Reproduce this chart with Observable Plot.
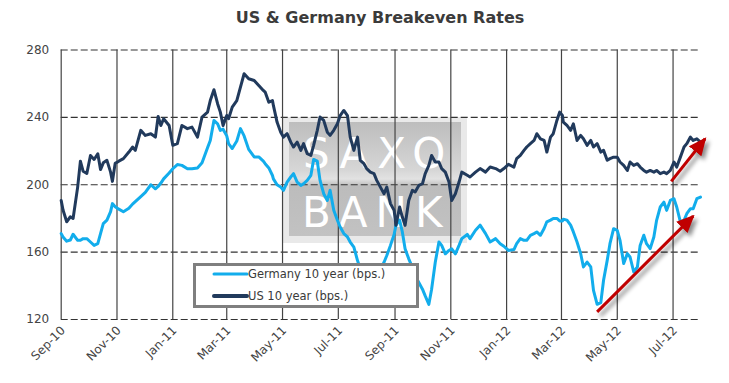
<!DOCTYPE html>
<html><head><meta charset="utf-8">
<script src="https://cdn.jsdelivr.net/npm/d3@7"></script>
<script src="https://cdn.jsdelivr.net/npm/@observablehq/plot@0.6"></script>
<style>
body{margin:0;background:#fff;}
#wrap{position:relative;width:729px;height:383px;overflow:hidden;font-family:"DejaVu Sans",Verdana,sans-serif;}
#title{position:absolute;left:0;top:0;width:729px;height:34px;box-sizing:border-box;padding-left:31px;padding-top:8px;text-align:center;font-weight:bold;font-size:16px;color:#3b3b3b;}
#wm{position:absolute;left:283px;top:117px;z-index:0;}
#chart{position:absolute;left:0;top:34px;z-index:1;}
#legend{position:absolute;left:193px;top:263px;width:226px;height:45px;box-sizing:border-box;border:3px solid #7f7f7f;background:#fff;z-index:2;}
</style></head><body>
<div id="wrap">
  <div id="title"></div>
  <svg id="wm" width="184" height="126"></svg>
  <div id="chart"></div>
  <div id="legend"></div>
</div>
<script>
const chartTitle = "US & Germany Breakeven Rates";
const seriesNames = ["Germany 10 year (bps.)", "US 10 year (bps.)"];
const seriesColors = ["#12adec", "#213a5c"];
const watermarkWords = ["SAXO", "BANK"];

const dates = [
"2010-09-01","2010-09-03","2010-09-07","2010-09-11","2010-09-14","2010-09-19","2010-09-22","2010-09-25","2010-09-29",
"2010-10-03","2010-10-07","2010-10-11","2010-10-14","2010-10-17","2010-10-21","2010-10-25","2010-10-27","2010-10-30",
"2010-11-03","2010-11-08","2010-11-14","2010-11-18","2010-11-21","2010-11-27",
"2010-12-02","2010-12-08","2010-12-13","2010-12-16","2010-12-19","2010-12-22","2010-12-28",
"2011-01-01","2011-01-06","2011-01-11","2011-01-17","2011-01-22","2011-01-28",
"2011-02-02","2011-02-08","2011-02-11","2011-02-15","2011-02-19","2011-02-22","2011-02-25",
"2011-03-01","2011-03-03","2011-03-07","2011-03-12","2011-03-16","2011-03-20","2011-03-25","2011-03-31",
"2011-04-05","2011-04-10","2011-04-12","2011-04-16","2011-04-20","2011-04-21","2011-04-25","2011-04-29",
"2011-05-02","2011-05-06","2011-05-10","2011-05-13","2011-05-17","2011-05-21","2011-05-24","2011-05-28",
"2011-06-01","2011-06-04","2011-06-08","2011-06-11","2011-06-15","2011-06-19","2011-06-22","2011-06-26","2011-06-30",
"2011-07-03","2011-07-07","2011-07-11","2011-07-14","2011-07-18","2011-07-22","2011-07-25","2011-07-29",
"2011-08-01","2011-08-05","2011-08-09","2011-08-12","2011-08-16","2011-08-20","2011-08-23","2011-08-27","2011-08-31",
"2011-09-02","2011-09-06","2011-09-09","2011-09-12","2011-09-16","2011-09-20","2011-09-23","2011-09-27",
"2011-10-01","2011-10-04","2011-10-08","2011-10-11","2011-10-15","2011-10-19","2011-10-22","2011-10-26","2011-10-30",
"2011-11-02","2011-11-06","2011-11-10","2011-11-13","2011-11-19","2011-11-22","2011-11-28",
"2011-12-03","2011-12-09","2011-12-14","2011-12-20","2011-12-25","2011-12-29",
"2012-01-03","2012-01-09","2012-01-12","2012-01-16","2012-01-20","2012-01-23","2012-01-27","2012-01-31",
"2012-02-03","2012-02-07","2012-02-11","2012-02-14","2012-02-18","2012-02-21","2012-02-25","2012-02-28",
"2012-03-02","2012-03-03","2012-03-07","2012-03-11","2012-03-14","2012-03-18","2012-03-22","2012-03-25","2012-03-29",
"2012-04-02","2012-04-05","2012-04-09","2012-04-13","2012-04-16","2012-04-20","2012-04-23","2012-04-27",
"2012-05-01","2012-05-04","2012-05-08","2012-05-12","2012-05-15","2012-05-19","2012-05-23","2012-05-26","2012-05-30",
"2012-06-02","2012-06-06","2012-06-10","2012-06-13","2012-06-17","2012-06-21","2012-06-24","2012-06-28",
"2012-07-02","2012-07-05","2012-07-09","2012-07-13","2012-07-16","2012-07-20","2012-07-23","2012-07-27","2012-07-31"
];

const germany = [
171,169,166.5,167.2,170.6,167,167,168,168,
166,164,165,171,176.9,179,184,188.8,187,
185.5,184,186,188.5,190,193,
195.5,200,197.6,199,201,203.5,207,
209.5,212,211.5,209.5,209.5,210,
213,222,226.3,238.2,236.2,232.3,233,
229,224.4,221.5,226,233.3,229,221,216.5,
216.5,214,212.5,210,205.5,203.5,200,198.6,
196.7,201.6,204.6,206.6,201.6,199.6,200.6,202.6,
205.6,215,214,202.6,194.7,190.7,196.7,184.8,178.9,
174.9,171,169,166,163,155,150,147,
145.5,148,144.5,145,150,154,158,164,170.5,
176,179,172,162,156,151,146,142,
138,134,129,138,154,166,164,159,161,
162,159,164,168,170.5,168,173,
176,171,166,168,165,163.5,
161,161.5,165,168,167,167,170,171,
172,170,174,178,179,180,180,178.5,
178.5,179.5,179,176,172,166,159,151.2,154.1,
151.2,137.3,129,130,143.3,155.1,165,173.9,
172.9,167,153.2,159.1,157.1,148.2,151.2,164,170,
165,162.1,169,178.9,186.8,189.7,184.8,190.7,
191.7,186.8,177.9,178.9,182.8,185.8,185.8,191.7,192.7
];

const us = [
190.7,185,178,181,180,198.6,214,208,206.7,
217.4,215,218.4,209,213,214.5,207.5,202,212.7,
214,215.5,219.4,222.4,220.4,232.3,
229.3,230.3,228.3,240.5,235.2,239.2,235.2,
223.4,224.4,235.2,233.3,234.2,228.3,
240.2,243.1,250,256.4,248.1,243.1,235.2,
241.1,239.2,246.1,250,258,265.9,262.9,261.9,
258.9,256,255,249,250,247.1,237.2,231.2,
228.3,230.3,225.3,222.4,225.3,220.4,224.4,218.4,
217.4,223.4,232.3,240.2,238.2,231.2,229.3,232.3,236.2,
241.1,244.1,241.1,228.3,220.4,228.3,214.5,212.5,
209.6,207.5,206.6,202.6,198.6,194.7,198.6,188.8,184.8,
175.9,186.8,180.8,175.9,190.7,196.7,195.7,199.6,
200.6,206.6,211.5,217.4,213.5,213.5,209.6,207.5,201.6,
190.7,194.7,201.6,207.5,205.6,204.6,207.5,
209.6,207.5,210.5,209.6,208,209.6,
212.1,210.5,215.5,217.4,220.4,222.4,224.4,226.3,
230.3,227.3,226.3,219.4,228.3,230.3,238.2,243.1,
241.1,237.2,235.2,232.3,236.2,226.3,229.3,227.3,223.4,
226.3,222.4,224.4,219.4,220.4,214.5,215.5,216.4,
216.4,213.5,211.5,208.5,213.5,211.5,212.5,210.5,208.5,
207.5,208.5,207.5,208.5,206.6,207.5,206.6,208.5,
213.5,210.5,216.4,222.4,224.4,228.3,226.3,227.3,225.3
];

const yTicks = [120, 160, 200, 240, 280];
const xTicks = ["2010-09-01","2010-11-01","2011-01-01","2011-03-01","2011-05-01","2011-07-01",
                "2011-09-01","2011-11-01","2012-01-01","2012-03-01","2012-05-01","2012-07-01"];
const xDomain = ["2010-09-01", "2012-07-31"];

// trend arrows (start date/value -> end date/value)
const arrowStartDate = ["2012-04-09", "2012-06-29"];
const arrowStartValue = [124.5, 202];
const arrowEndDate = ["2012-07-23", "2012-08-05"];
const arrowEndValue = [181.4, 227.3];

const parse = d3.utcParse("%Y-%m-%d");
const rows = dates.map((d, i) => ({date: parse(d), germany: germany[i], us: us[i]}));
const arrows = arrowStartDate.map((d, i) => ({x1: parse(d), y1: arrowStartValue[i], x2: parse(arrowEndDate[i]), y2: arrowEndValue[i]}));
const xt = xTicks.map(parse);

document.getElementById("title").textContent = chartTitle;

const plot = Plot.plot({
  width: 729, height: 349,
  marginTop: 15.5, marginBottom: 64, marginLeft: 60.7, marginRight: 29,
  style: {background: "transparent", fontFamily: "'DejaVu Sans', Verdana, sans-serif", fontSize: "12px", color: "#444", overflow: "visible"},
  x: {type: "utc", domain: xDomain.map(parse), label: null},
  y: {domain: [120, 280], label: null},
  marks: [
    Plot.gridY(yTicks, {stroke: "#333", strokeOpacity: 1, strokeWidth: 1.2, strokeDasharray: "7,3"}),
    Plot.gridX(xt, {stroke: "#444", strokeOpacity: 1, strokeWidth: 1.2}),
    Plot.axisY(yTicks, {tickSize: 0, tickPadding: 12, fill: "#444"}),
    Plot.axisX(xt, {tickSize: 0, tickPadding: 9, tickRotate: -45, tickFormat: d3.utcFormat("%b-%y"), fill: "#444", dx: 2}),
    Plot.lineY(rows, {x: "date", y: "germany", stroke: seriesColors[0], strokeWidth: 3, strokeLinejoin: "round"}),
    Plot.lineY(rows, {x: "date", y: "us", stroke: seriesColors[1], strokeWidth: 3, strokeLinejoin: "round"}),
    Plot.link(arrows, {x1: "x1", y1: "y1", x2: "x2", y2: "y2", stroke: "#c00000", strokeWidth: 3})
  ]
});
document.getElementById("chart").appendChild(plot);

// filled arrowheads + shadow for trend arrows
const NS = "http://www.w3.org/2000/svg";
const defs = document.createElementNS(NS, "defs");
const marker = document.createElementNS(NS, "marker");
marker.setAttribute("id", "ahead");
marker.setAttribute("viewBox", "0 -8 18 16");
marker.setAttribute("refX", "16");
marker.setAttribute("refY", "0");
marker.setAttribute("markerWidth", "18");
marker.setAttribute("markerHeight", "16");
marker.setAttribute("markerUnits", "userSpaceOnUse");
marker.setAttribute("orient", "auto");
const mp = document.createElementNS(NS, "path");
mp.setAttribute("d", "M0,-8L18,0L0,8Z");
mp.setAttribute("fill", "#c00000");
marker.appendChild(mp);
defs.appendChild(marker);
plot.insertBefore(defs, plot.firstChild);
const linkG = plot.querySelector('g[aria-label="link"]');
if (linkG) {
  linkG.style.filter = "drop-shadow(3px 4px 2px rgba(0,0,0,0.45))";
  linkG.querySelectorAll("path, line").forEach(p => p.setAttribute("marker-end", "url(#ahead)"));
}

// watermark
const wm = d3.select("#wm");
const g = wm.append("defs").append("linearGradient").attr("id", "wmg").attr("x1", 0).attr("y1", 0).attr("x2", 0).attr("y2", 1);
[[0, "#bdbdbd"], [0.42, "#d6d6d6"], [0.5, "#e2e2e2"], [0.56, "#bcbcbc"], [1, "#c2c2c2"]].forEach(([o, c]) => g.append("stop").attr("offset", o).attr("stop-color", c));
wm.append("rect").attr("width", 184).attr("height", 126).attr("fill", "#e9e9e9");
wm.append("rect").attr("x", 6).attr("y", 5).attr("width", 172).attr("height", 114).attr("fill", "url(#wmg)");
wm.append("text").attr("x", 20).attr("y", 51).text(watermarkWords[0])
  .attr("fill", "#fff").attr("font-size", 42).attr("letter-spacing", 9).attr("font-family", "'DejaVu Sans', sans-serif");
wm.append("text").attr("x", 19).attr("y", 110).text(watermarkWords[1])
  .attr("fill", "#fff").attr("font-size", 42).attr("letter-spacing", 8).attr("font-family", "'DejaVu Sans', sans-serif");

// legend
const lg = d3.select("#legend").append("svg").attr("width", 220).attr("height", 39);
seriesNames.forEach((name, i) => {
  const y = 8 + i * 22;
  lg.append("line").attr("x1", 18).attr("x2", 51).attr("y1", y).attr("y2", y)
    .attr("stroke", seriesColors[i]).attr("stroke-width", i ? 4 : 3).attr("stroke-linecap", "round");
  lg.append("text").attr("x", 52).attr("y", y + 4).text(name)
    .attr("font-size", 11.5).attr("fill", "#3a3a3a").attr("font-family", "'DejaVu Sans', Verdana, sans-serif");
});
</script>
</body></html>
